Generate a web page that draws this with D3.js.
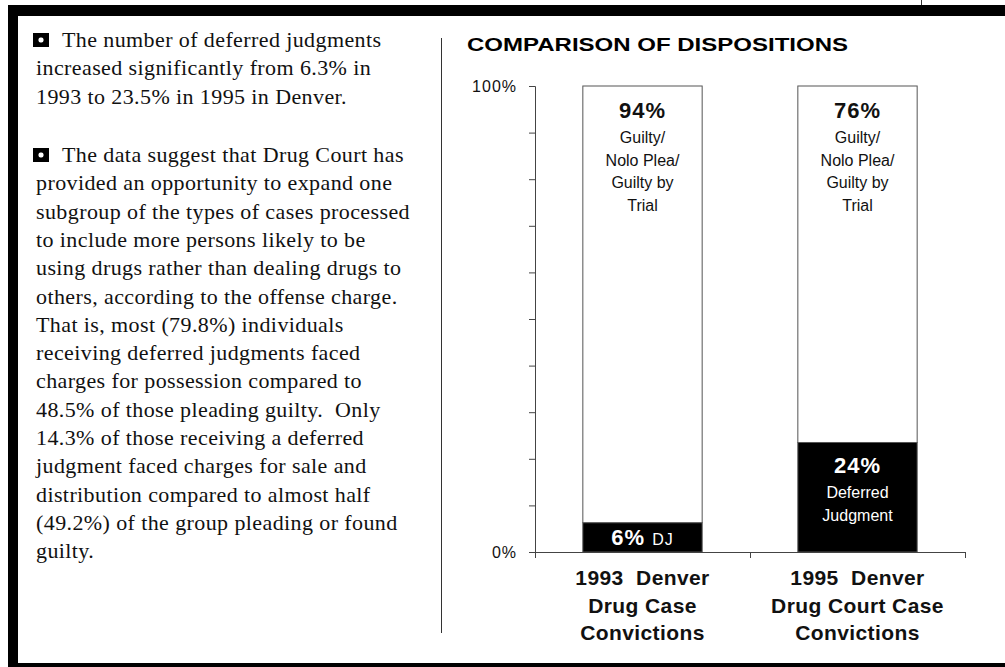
<!DOCTYPE html>
<html lang="en">
<head>
<meta charset="UTF-8">
<script src="https://d3js.org/d3.v7.min.js"></script>
<style>
  body { margin: 0; background: #fff; }
  svg text { white-space: pre; }
</style>
</head>
<body>
<svg width="1005" height="667" id="chart"></svg>
<script>
// chart data
const categories = ["1993 Denver Drug Case Convictions", "1995 Denver Drug Court Case Convictions"];
const deferredPct = [6.3, 23.5];
const guiltyPct = [93.7, 76.5];
const deferredLabels = ["6%", "24%"];
const guiltyLabels = ["94%", "76%"];
const deferredNotes = [["DJ"], ["Deferred", "Judgment"]];
const guiltyNotes = [["Guilty/", "Nolo Plea/", "Guilty by", "Trial"], ["Guilty/", "Nolo Plea/", "Guilty by", "Trial"]];
const categoryLines = [["1993  Denver", "Drug Case", "Convictions"], ["1995  Denver", "Drug Court Case", "Convictions"]];
const yTicks = [0, 10, 20, 30, 40, 50, 60, 70, 80, 90, 100];
const yTickLabels = {0: "0%", 100: "100%"};

// side text
const para1 = ["The number of deferred judgments", "increased significantly from 6.3% in", "1993 to 23.5% in 1995 in Denver."];
const para2 = ["The data suggest that Drug Court has", "provided an opportunity to expand one",
  "subgroup of the types of cases processed", "to include more persons likely to be",
  "using drugs rather than dealing drugs to", "others, according to the offense charge.",
  "That is, most (79.8%) individuals", "receiving deferred judgments faced",
  "charges for possession compared to", "48.5% of those pleading guilty.  Only",
  "14.3% of those receiving a deferred", "judgment faced charges for sale and",
  "distribution compared to almost half", "(49.2%) of the group pleading or found", "guilty."];

const svg = d3.select("#chart");
const sans = "'Liberation Sans', Arial, Helvetica, sans-serif";
const serif = "'Liberation Serif', 'Times New Roman', serif";

// page frame
svg.append("rect").attr("x", 8).attr("y", 5).attr("width", 997).attr("height", 11).attr("fill", "#000");
svg.append("rect").attr("x", 8).attr("y", 5).attr("width", 10).attr("height", 662).attr("fill", "#000");
svg.append("rect").attr("x", 8).attr("y", 663).attr("width", 997).attr("height", 4).attr("fill", "#000");
svg.append("line").attr("x1", 921.5).attr("x2", 921.5).attr("y1", 0).attr("y2", 5).attr("stroke", "#333");

// divider
svg.append("line").attr("x1", 441.5).attr("x2", 441.5).attr("y1", 38).attr("y2", 633)
  .attr("stroke", "#333").attr("stroke-width", 1);

// left column text
const lineH = 28.3;
function bullet(y) {
  svg.append("rect").attr("x", 33).attr("y", y - 14).attr("width", 16).attr("height", 14).attr("fill", "#000");
  svg.append("rect").attr("x", 38.5).attr("y", y - 9.5).attr("width", 5).attr("height", 5).attr("rx", 2).attr("fill", "#fff");
}
function paragraph(lines, y0) {
  bullet(y0);
  lines.forEach((t, i) => {
    svg.append("text")
      .attr("x", i === 0 ? 62 : 36)
      .attr("y", y0 + i * lineH)
      .style("font-family", serif).style("font-size", "22px").style("letter-spacing", "0.4px")
      .attr("fill", "#111")
      .text(t);
  });
}
paragraph(para1, 47);
paragraph(para2, 162);

// title
svg.append("text").attr("x", 467).attr("y", 51)
  .style("font-family", sans).style("font-size", "19px").style("font-weight", "bold")
  .attr("textLength", 381).attr("lengthAdjust", "spacingAndGlyphs")
  .text("COMPARISON OF DISPOSITIONS");

// scales
const x = d3.scaleBand().domain(categories).range([535, 965]).padding(0);
const barW = x.bandwidth() * 0.555;
const y = d3.scaleLinear().domain([0, 100]).range([552, 86]);

const rows = categories.map((c, i) => ({ cat: c, dj: deferredPct[i], guilty: guiltyPct[i], i: i }));
const stack = d3.stack().keys(["dj", "guilty"])(rows);

// bars
svg.append("g").selectAll("g")
  .data(stack).enter().append("g")
  .selectAll("rect")
  .data(s => s.map(d => ({ key: s.key, d: d })))
  .enter().append("rect")
  .attr("x", o => x(o.d.data.cat) + (x.bandwidth() - barW) / 2)
  .attr("y", o => y(o.d[1]))
  .attr("width", barW)
  .attr("height", o => y(o.d[0]) - y(o.d[1]))
  .attr("fill", o => o.key === "dj" ? "#000" : "#fff")
  .attr("stroke", "#555").attr("stroke-width", 1);

// y axis
const yAxis = svg.append("g")
  .attr("transform", "translate(535,0)")
  .call(d3.axisLeft(y).tickValues(yTicks).tickSize(6).tickPadding(12)
    .tickFormat(v => yTickLabels[v] || ""));
yAxis.select(".domain").attr("stroke", "#444");
yAxis.selectAll(".tick line").attr("stroke", "#444");
yAxis.selectAll("text").attr("font-family", null).attr("font-size", null)
  .style("font-family", sans).style("font-size", "16px")
  .style("letter-spacing", "1px").attr("fill", "#111");

// x axis with ticks on band boundaries
const xg = svg.append("g");
xg.append("line").attr("x1", x.range()[0]).attr("x2", x.range()[1]).attr("y1", y(0) + 0.5).attr("y2", y(0) + 0.5)
  .attr("stroke", "#444");
const bounds = categories.map(c => x(c)).concat([x(categories[categories.length - 1]) + x.bandwidth()]);
xg.selectAll(".bt").data(bounds).enter().append("line")
  .attr("x1", d => d + 0.5).attr("x2", d => d + 0.5)
  .attr("y1", y(0)).attr("y2", y(0) + 6).attr("stroke", "#444");

// category labels
rows.forEach(r => {
  const cx = x(r.cat) + x.bandwidth() / 2;
  categoryLines[r.i].forEach((t, k) => {
    svg.append("text").attr("x", cx).attr("y", 585 + k * 27.5)
      .attr("text-anchor", "middle")
      .style("font-family", sans).style("font-size", "21px").style("font-weight", "bold")
      .style("letter-spacing", "0.4px").attr("fill", "#111")
      .text(t);
  });
});

// labels inside the white (guilty) segments
rows.forEach(r => {
  const cx = x(r.cat) + x.bandwidth() / 2;
  const top = y(r.dj + r.guilty);
  svg.append("text").attr("x", cx).attr("y", top + 32).attr("text-anchor", "middle")
    .style("font-family", sans).style("font-size", "22px").style("font-weight", "bold")
    .style("letter-spacing", "1px").attr("fill", "#111")
    .text(guiltyLabels[r.i]);
  guiltyNotes[r.i].forEach((t, k) => {
    svg.append("text").attr("x", cx).attr("y", top + 57 + k * 22.5).attr("text-anchor", "middle")
      .style("font-family", sans).style("font-size", "16px").attr("fill", "#111")
      .text(t);
  });
});

// labels inside the black (deferred) segments
rows.forEach(r => {
  const cx = x(r.cat) + x.bandwidth() / 2;
  const top = y(r.dj);
  const h = y(0) - top;
  if (h < 50) {
    // short segment: one inline line
    const t = svg.append("text").attr("x", cx).attr("y", y(0) - 7).attr("text-anchor", "middle")
      .attr("fill", "#fff").style("font-family", sans);
    t.append("tspan").style("font-size", "22px").style("font-weight", "bold").style("letter-spacing", "1px")
      .text(deferredLabels[r.i] + " ");
    t.append("tspan").style("font-size", "16px").style("letter-spacing", "1px")
      .text(deferredNotes[r.i].join(" "));
  } else {
    svg.append("text").attr("x", cx).attr("y", top + 31).attr("text-anchor", "middle")
      .style("font-family", sans).style("font-size", "22px").style("font-weight", "bold")
      .style("letter-spacing", "1px").attr("fill", "#fff")
      .text(deferredLabels[r.i]);
    deferredNotes[r.i].forEach((t, k) => {
      svg.append("text").attr("x", cx).attr("y", top + 56 + k * 22.5).attr("text-anchor", "middle")
        .style("font-family", sans).style("font-size", "16px").attr("fill", "#fff")
        .text(t);
    });
  }
});
</script>
</body>
</html>
